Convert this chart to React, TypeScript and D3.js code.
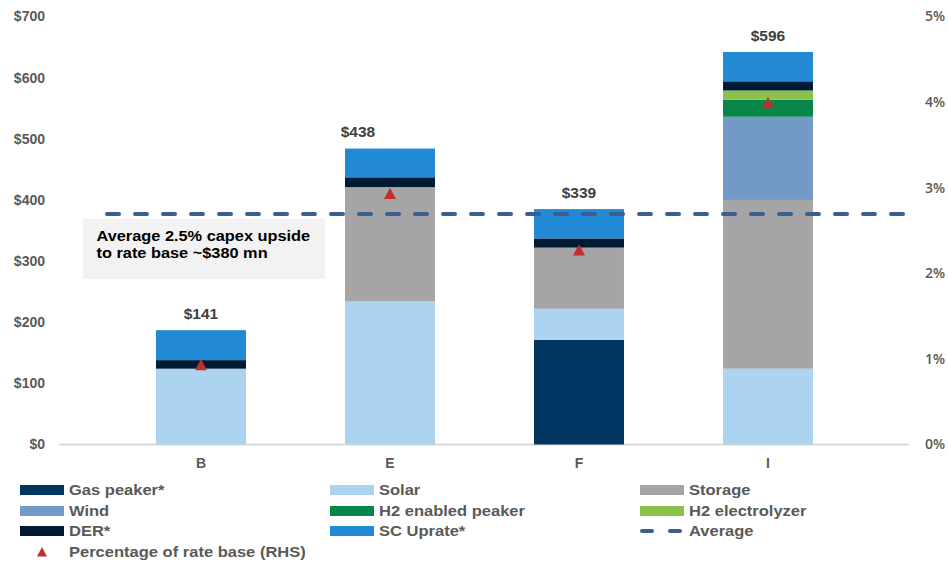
import React from "react";
import * as d3 from "d3";

const categories = ["B", "E", "F", "I"];
const seriesNames = [
  "Gas peaker*",
  "Solar",
  "Storage",
  "Wind",
  "H2 enabled peaker",
  "H2 electrolyzer",
  "DER*",
  "SC Uprate*",
];
const seriesColors = [
  "#003560",
  "#acd3f0",
  "#a5a5a5",
  "#7399c6",
  "#08864a",
  "#8bc34a",
  "#001a33",
  "#228ad4",
];
// values per category, in seriesNames order ($ mn)
const gasPeaker = [0, 0, 171, 0];
const solar = [124, 234, 51, 124];
const storage = [0, 187, 100, 276];
const wind = [0, 0, 0, 136];
const h2Peaker = [0, 0, 0, 28];
const h2Electrolyzer = [0, 0, 0, 15];
const der = [14, 16, 15, 15];
const scUprate = [49, 47, 48, 48];
const pctRateBase = [0.0093, 0.0293, 0.0227, 0.0399];
const valueLabels = ["$141", "$438", "$339", "$596"];
const averageValue = 377;
const leftTicks = [0, 100, 200, 300, 400, 500, 600, 700];
const rightTicks = [0, 0.01, 0.02, 0.03, 0.04, 0.05];

const W = 948;
const H = 562;
const font = "'Liberation Sans', Arial, sans-serif";
const gray = "#595959";

// the $438 label sits left of its bar in the original
const labelShift: Record<string, number> = { E: -32 };

export default function App() {
  const seriesValues = [gasPeaker, solar, storage, wind, h2Peaker, h2Electrolyzer, der, scUprate];
  const rows = categories.map((c, i) => {
    const r: any = { cat: c };
    seriesNames.forEach((s, k) => (r[s] = seriesValues[k][i]));
    return r;
  });
  const stacked = d3.stack<any>().keys(seriesNames)(rows);

  const y = d3.scaleLinear().domain([0, 700]).range([444.5, 16.5]);
  const yR = d3.scaleLinear().domain([0, 0.05]).range([444.5, 16.5]);
  const x = d3
    .scaleBand()
    .domain(categories)
    .range([106.5, 862.5])
    .paddingInner(0.524)
    .paddingOuter(0.262);
  const bw = x.bandwidth();
  const totals = rows.map((r) => d3.sum(seriesNames, (s) => r[s]));

  const tri = (cx: number, cy: number, s = 6) =>
    `M${cx},${cy - s} L${cx + s},${cy + s * 0.9} L${cx - s},${cy + s * 0.9} Z`;

  const legendItems = [
    ...seriesNames.map((n, i) => ({ name: n, type: "rect", color: seriesColors[i] })),
    { name: "Average", type: "dash", color: "#3a5f8e" },
    { name: "Percentage of rate base (RHS)", type: "tri", color: "#c0302f" },
  ];
  const legendCols = [20, 330, 640];
  const legendRows = [490, 511, 531, 552];

  return (
    <svg
      width={W}
      height={H}
      style={{ position: "absolute", left: 0, top: 0, background: "#fff" }}
      fontFamily={font}
    >
      {/* left axis */}
      {leftTicks.map((t) => (
        <text
          key={t}
          x={45}
          y={y(t)}
          dy="0.35em"
          textAnchor="end"
          fontSize={14}
          fontWeight="bold"
          fill={gray}
        >
          ${t}
        </text>
      ))}
      {/* right axis */}
      {rightTicks.map((t) => (
        <text
          key={t}
          x={945}
          y={yR(t)}
          dy="0.35em"
          textAnchor="end"
          fontSize={14}
          fontWeight={600}
          fontFamily="'Open Sans', sans-serif"
          fill={gray}
        >
          {Math.round(t * 100)}%
        </text>
      ))}
      <line x1={59} x2={909} y1={y(0)} y2={y(0)} stroke="#d9d9d9" strokeWidth={2} />

      {/* bars */}
      {stacked.map((layer, k) => (
        <g key={layer.key} fill={seriesColors[k]}>
          {layer.map((d, i) =>
            d[1] - d[0] > 0 ? (
              <rect
                key={i}
                x={x(categories[i])}
                width={bw}
                y={y(d[1])}
                height={y(d[0]) - y(d[1])}
              />
            ) : null
          )}
        </g>
      ))}

      {/* category labels */}
      {categories.map((c) => (
        <text
          key={c}
          x={(x(c) as number) + bw / 2}
          y={463}
          dy="0.35em"
          textAnchor="middle"
          fontSize={14}
          fontWeight="bold"
          fill={gray}
        >
          {c}
        </text>
      ))}

      {/* value labels */}
      {categories.map((c, i) => (
        <text
          key={c}
          x={(x(c) as number) + bw / 2 + (labelShift[c] || 0)}
          y={y(totals[i]) - 16.5}
          dy="0.35em"
          textAnchor="middle"
          fontSize={15.5}
          fontWeight="bold"
          fill="#404040"
        >
          {valueLabels[i]}
        </text>
      ))}

      {/* annotation box */}
      <rect x={83} y={219} width={242} height={60} fill="#f2f2f2" />
      <g transform="translate(96.5,0) scale(1.09,1)" fontSize={15} fontWeight="bold" fill="#000">
        <text x={0} y={241}>
          Average 2.5% capex upside
        </text>
        <text x={0} y={258.5}>
          to rate base ~$380 mn
        </text>
      </g>

      {/* average line */}
      <line
        x1={107}
        x2={905}
        y1={y(averageValue)}
        y2={y(averageValue)}
        stroke="#3a5f8e"
        strokeWidth={4}
        strokeDasharray="12,16"
        strokeLinecap="round"
      />

      {/* rate base markers */}
      {categories.map((c, i) => (
        <path
          key={c}
          d={tri((x(c) as number) + bw / 2, yR(pctRateBase[i]))}
          fill="#c0302f"
        />
      ))}

      {/* legend */}
      {legendItems.map((it, i) => {
        const lx = legendCols[i % 3];
        const ly = legendRows[Math.floor(i / 3)];
        return (
          <g key={it.name}>
            {it.type === "rect" && (
              <rect x={lx} y={ly - 5} width={44} height={10} fill={it.color} />
            )}
            {it.type === "dash" && (
              <g stroke={it.color} strokeWidth={4} strokeLinecap="round">
                <line x1={lx + 2} x2={lx + 12} y1={ly} y2={ly} />
                <line x1={lx + 30} x2={lx + 40} y1={ly} y2={ly} />
              </g>
            )}
            {it.type === "tri" && <path d={tri(lx + 22, ly, 5)} fill={it.color} />}
            <g transform={`translate(${lx + 49},${ly}) scale(1.14,1)`}>
              <text
                x={0}
                y={0}
                dy="0.35em"
                fontSize={14.5}
                fontWeight="bold"
                fill={gray}
              >
                {it.name}
              </text>
            </g>
          </g>
        );
      })}
    </svg>
  );
}
